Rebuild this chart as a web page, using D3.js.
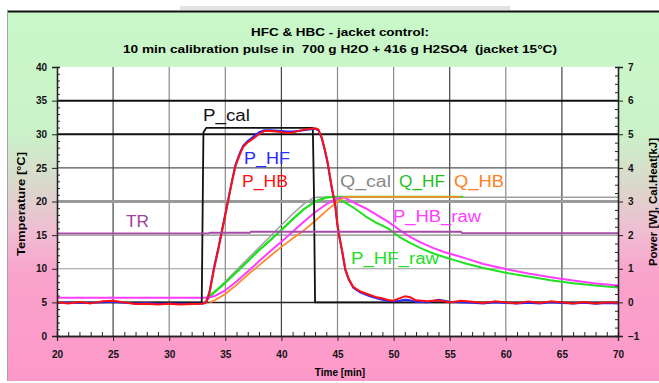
<!DOCTYPE html>
<html>
<head>
<meta charset="utf-8">
<script src="https://cdn.jsdelivr.net/npm/d3@7"></script>
<style>
  body { margin: 0; background: #fff; }
  svg text { font-family: "Liberation Sans", Arial, sans-serif; }
</style>
</head>
<body>
<chart></chart>
<script>
// data: time [min] vs power [W] / heat [kJ] (right axis), TR in degC (left axis)
let xTicks = [20, 25, 30, 35, 40, 45, 50, 55, 60, 65, 70];
let tempTicks = [0, 5, 10, 15, 20, 25, 30, 35, 40];
let powerTicks = [-1, 0, 1, 2, 3, 4, 5, 6, 7];

let pCal = [[20, 0], [32.9, 0], [33.05, 5.05], [33.3, 5.19], [42.8, 5.19], [42.9, 3.3], [43.0, 0], [70, 0]];

let pHB = [[20, 0.0], [21, -0.03], [22, 0.01], [23, -0.03], [24, 0.03], [25, 0.05], [26, 0.0], [27, -0.05], [28, -0.04],
  [29, -0.06], [30, -0.04], [31, -0.06], [32, -0.05], [33, -0.04], [33.3, 0.0], [33.6, 0.3], [34, 1.0], [34.4, 1.6],
  [34.7, 2.1], [35, 2.6], [35.3, 3.1], [35.6, 3.6], [35.9, 4.05], [36.3, 4.4], [36.6, 4.63], [37, 4.76], [37.4, 4.85],
  [38, 5.0], [38.5, 5.1], [39, 5.1], [40, 5.07], [40.5, 5.04], [41, 5.05], [41.5, 5.1], [42, 5.13], [42.5, 5.16],
  [43, 5.18], [43.3, 5.14], [43.6, 4.9], [43.9, 4.5], [44.1, 4.2], [44.3, 3.8], [44.5, 3.4], [44.8, 2.9], [45.0, 2.3],
  [45.2, 1.9], [45.4, 1.56], [45.7, 0.98], [46, 0.7], [46.4, 0.46], [47, 0.33], [47.9, 0.22], [48.5, 0.15], [49, 0.12],
  [49.5, 0.07], [50, 0.05], [50.5, 0.12], [51, 0.18], [51.5, 0.15], [52, 0.06], [53, 0.03], [54, 0.06], [55, 0.0],
  [56, 0.05], [57, 0.02], [58, -0.02], [59, 0.03], [60, 0.0], [61, -0.03], [62, 0.03], [63, -0.02], [64, 0.03],
  [65, 0.0], [66, -0.03], [67, 0.01], [68, -0.03], [69, 0.0], [70, -0.01]];

let pHF = [[20, -0.02], [21, 0.0], [22, -0.02], [23, -0.01], [24, 0.0], [25, 0.02], [26, -0.01], [27, -0.03], [28, -0.02],
  [29, -0.04], [30, -0.03], [31, -0.04], [32, -0.04], [33, -0.03], [33.3, 0.0], [33.6, 0.32], [34, 1.05], [34.4, 1.65],
  [34.7, 2.15], [35, 2.62], [35.3, 3.12], [35.6, 3.62], [35.9, 4.08], [36.3, 4.45], [36.6, 4.66], [37, 4.8], [37.4, 4.9],
  [38, 5.06], [38.5, 5.12], [39, 5.12], [40, 5.1], [40.5, 5.08], [41, 5.08], [41.5, 5.1], [42, 5.12], [42.5, 5.14],
  [43, 5.16], [43.3, 5.12], [43.6, 4.88], [43.9, 4.48], [44.1, 4.18], [44.3, 3.78], [44.5, 3.38], [44.8, 2.88],
  [45.0, 2.28], [45.2, 1.88], [45.4, 1.54], [45.7, 0.96], [46, 0.68], [46.4, 0.44], [47, 0.3], [47.9, 0.18], [48.5, 0.12],
  [49, 0.08], [49.5, 0.05], [50, 0.03], [50.5, 0.05], [51, 0.08], [51.5, 0.06], [52, 0.02], [53, 0.0], [54, 0.08],
  [55, 0.02], [56, 0.0], [57, -0.01], [58, -0.03], [59, 0.0], [60, -0.02], [61, -0.03], [62, -0.01], [63, -0.03],
  [64, 0.0], [65, -0.02], [66, -0.03], [67, -0.01], [68, -0.04], [69, -0.02], [70, -0.03]];

let qCal = [[33, 0], [33.5, 0.1], [34, 0.28], [35, 0.62], [36, 0.96], [37, 1.3], [38, 1.63], [39, 1.96], [40, 2.3],
  [41, 2.63], [42, 2.93], [42.8, 3.1], [43.2, 3.13], [70, 3.13]];

let qHF = [[33.3, 0.12], [34, 0.3], [35, 0.58], [36, 0.9], [37, 1.22], [38, 1.55], [39, 1.85], [40, 2.15], [41, 2.47],
  [42, 2.77], [43, 3.0], [44, 3.12], [44.7, 3.14], [56.2, 3.14]];

let pHFraw = [[33.3, 0.12], [34, 0.3], [35, 0.58], [36, 0.9], [37, 1.22], [38, 1.55], [39, 1.85], [40, 2.15], [41, 2.47],
  [42, 2.77], [43, 3.0], [44, 3.12], [44.7, 3.14], [45.5, 3.0], [46.5, 2.8], [47.5, 2.56], [48.5, 2.36], [49.5, 2.2],
  [50.5, 1.95], [51.5, 1.76], [52.5, 1.6], [53.5, 1.46], [54.5, 1.35], [55.5, 1.25], [56.5, 1.15], [58, 1.02],
  [60, 0.88], [62, 0.77], [64, 0.66], [66, 0.57], [68, 0.5], [70, 0.44]];

let pHBraw = [[20, 0.14], [33.4, 0.14], [34, 0.18], [35, 0.36], [36, 0.62], [37, 0.92], [38, 1.22], [39, 1.52], [40, 1.8],
  [41, 2.1], [42, 2.4], [43, 2.68], [44, 2.92], [45, 3.1], [45.6, 3.12], [46.5, 2.96], [47.5, 2.8], [48.5, 2.6],
  [49.5, 2.4], [50.5, 2.16], [51.5, 1.94], [52.5, 1.77], [53.5, 1.62], [54.5, 1.5], [55.5, 1.4], [56.5, 1.3],
  [58, 1.14], [60, 0.99], [62, 0.86], [64, 0.75], [66, 0.65], [68, 0.56], [70, 0.5]];

let qHB = [[33.6, 0], [34, 0.05], [35, 0.25], [36, 0.52], [37, 0.82], [38, 1.1], [39, 1.38], [40, 1.65], [41, 1.9],
  [42, 2.14], [43, 2.42], [44, 2.72], [45, 3.0], [45.6, 3.12], [46, 3.14], [56, 3.14]];

let tr = [[20, 15.25], [33.5, 15.25], [33.6, 15.35], [37.2, 15.35], [37.3, 15.5], [56, 15.5], [56.1, 15.3], [70, 15.3]];

let width = 659;
let height = 383;

let svg = d3.select("chart").append("svg").attr("width", width).attr("height", height);

// background gradient (green -> pink)
let grad = svg.append("defs").append("linearGradient").attr("id", "bg")
  .attr("x1", 0).attr("y1", 0).attr("x2", 0).attr("y2", 1);
[[0, "#c8f8c8"], [0.33, "#cbf2c9"], [0.48, "#dcd6cc"], [0.6, "#f0bcd2"], [0.72, "#faa2cc"], [1, "#fd99c9"]]
  .forEach((s) => grad.append("stop").attr("offset", s[0]).attr("stop-color", s[1]));

svg.append("rect").attr("x", 180).attr("y", 6).attr("width", 330).attr("height", 4).attr("fill", "#e2e2e2");
svg.append("rect").attr("x", 7).attr("y", 11).attr("width", width - 7).attr("height", 370).attr("fill", "url(#bg)");
svg.append("line").attr("x1", 7).attr("x2", width).attr("y1", 11.5).attr("y2", 11.5).attr("stroke", "#111").attr("stroke-width", 2);
svg.append("line").attr("x1", 7.5).attr("x2", 7.5).attr("y1", 11).attr("y2", 381).attr("stroke", "#a0a0b0");

let plot = { left: 57, right: 618, top: 67, bottom: 336 };

let x = d3.scaleLinear().domain([20, 70]).range([plot.left, plot.right]);
let yT = d3.scaleLinear().domain([0, 40]).range([plot.bottom, plot.top]);
let yP = d3.scaleLinear().domain([-1, 7]).range([plot.bottom, plot.top]);

svg.append("rect").attr("x", plot.left).attr("y", plot.top)
  .attr("width", plot.right - plot.left).attr("height", plot.bottom - plot.top).attr("fill", "#fff");

// grid
let grid = svg.append("g");
grid.selectAll(".vg").data(xTicks.slice(1, -1)).enter().append("line")
  .attr("x1", (d) => x(d)).attr("x2", (d) => x(d)).attr("y1", plot.top).attr("y2", plot.bottom)
  .attr("stroke", (d) => (d == 25 || d == 40 || d == 55 || d == 65 ? "#444" : "#8a8a8a")).attr("stroke-width", 1.2);
let hStyle = { 5: ["#222", 1.5], 10: ["#999", 1.2], 15: ["#888", 1.2], 20: ["#9a9a9a", 3], 25: ["#555", 1.3], 30: ["#111", 2], 35: ["#111", 2] };
grid.selectAll(".hg").data(tempTicks.slice(1, -1)).enter().append("line")
  .attr("x1", plot.left).attr("x2", plot.right).attr("y1", (d) => yT(d)).attr("y2", (d) => yT(d))
  .attr("stroke", (d) => hStyle[d][0]).attr("stroke-width", (d) => hStyle[d][1]);

// series
let line = (yS) => d3.line().x((d) => x(d[0])).y((d) => yS(d[1]));
let series = [
  { data: qCal, color: "#a0a0a0", w: 1.5 },
  { data: pHFraw, color: "#22e022", w: 2 },
  { data: qHF, color: "#22e022", w: 2 },
  { data: pHBraw, color: "#ff3cff", w: 2 },
  { data: qHB, color: "#ff8a2a", w: 1.8 },
  { data: pCal, color: "#111", w: 1.8 },
  { data: pHF, color: "#2a2aff", w: 2 },
  { data: pHB, color: "#ff1010", w: 2 },
];
series.forEach((s) => {
  svg.append("path").datum(s.data).attr("d", line(yP)).attr("fill", "none")
    .attr("stroke", s.color).attr("stroke-width", s.w).attr("stroke-linejoin", "round");
});
svg.append("path").datum(tr).attr("d", line(yT)).attr("fill", "none").attr("stroke", "#a64ca6").attr("stroke-width", 1.8);

// axes
let axisFont = (g) => g.selectAll("text").attr("font-size", 10).attr("font-weight", "bold").attr("fill", "#111");
let xAxis = svg.append("g").attr("transform", `translate(0,${plot.bottom})`)
  .call(d3.axisBottom(x).tickValues(xTicks).tickSize(5).tickPadding(10));
xAxis.call(axisFont);
svg.append("g").attr("transform", `translate(0,${plot.bottom})`)
  .call(d3.axisTop(x).tickValues(d3.range(21, 70, 1).filter((d) => d % 5 != 0)).tickSize(4).tickFormat(""));
let yAxisL = svg.append("g").attr("transform", `translate(${plot.left},0)`)
  .call(d3.axisLeft(yT).tickValues(tempTicks).tickSize(5).tickPadding(5));
yAxisL.call(axisFont);
svg.append("g").attr("transform", `translate(${plot.left},0)`)
  .call(d3.axisRight(yT).tickValues(d3.range(1, 40, 1).filter((d) => d % 5 != 0)).tickSize(3).tickFormat(""));
let yAxisR = svg.append("g").attr("transform", `translate(${plot.right},0)`)
  .call(d3.axisRight(yP).tickValues(powerTicks).tickSize(5).tickPadding(5));
yAxisR.call(axisFont);
svg.append("g").attr("transform", `translate(${plot.right},0)`)
  .call(d3.axisLeft(yP).tickValues(d3.range(-0.75, 7, 0.25).filter((d) => d % 1 != 0)).tickSize(3).tickFormat(""));
svg.selectAll(".domain").attr("stroke", "#222").attr("stroke-width", 1.3);
svg.selectAll(".tick line").attr("stroke", "#222");

// titles
svg.append("text").attr("x", 340).attr("y", 36).attr("text-anchor", "middle").attr("font-size", 11).attr("font-weight", "bold")
  .attr("textLength", 178).attr("lengthAdjust", "spacingAndGlyphs").text("HFC & HBC - jacket control:");
svg.append("text").attr("x", 340).attr("y", 53).attr("text-anchor", "middle").attr("font-size", 11).attr("font-weight", "bold")
  .style("white-space", "pre").attr("textLength", 434).attr("lengthAdjust", "spacingAndGlyphs")
  .text("10 min calibration pulse in  700 g H2O + 416 g H2SO4  (jacket 15°C)");
svg.append("text").attr("x", 340).attr("y", 376).attr("text-anchor", "middle").attr("font-size", 10).attr("font-weight", "bold")
  .text("Time [min]");
svg.append("text").attr("transform", "translate(25,204) rotate(-90)").attr("text-anchor", "middle").attr("font-size", 10)
  .attr("font-weight", "bold").attr("textLength", 104).attr("lengthAdjust", "spacingAndGlyphs").text("Temperature [°C]");
svg.append("text").attr("transform", "translate(657,202) rotate(-90)").attr("text-anchor", "middle").attr("font-size", 10)
  .attr("font-weight", "bold").attr("textLength", 128).attr("lengthAdjust", "spacingAndGlyphs").text("Power [W], Cal.Heat[kJ]");

// series labels
let labels = [
  { t: "P_cal", x: 203, y: 121, w: 47, c: "#111" },
  { t: "P_HF", x: 244, y: 164, w: 46, c: "#2a2aff" },
  { t: "P_HB", x: 242, y: 187, w: 46, c: "#ff1010" },
  { t: "Q_cal", x: 340, y: 187, w: 51, c: "#888" },
  { t: "Q_HF", x: 399, y: 187, w: 46, c: "#1fc01f" },
  { t: "Q_HB", x: 454, y: 187, w: 50, c: "#ff8020" },
  { t: "P_HB_raw", x: 393, y: 222, w: 88, c: "#ff3cff" },
  { t: "P_HF_raw", x: 351, y: 264, w: 88, c: "#22e022" },
  { t: "TR", x: 126, y: 227, w: 23, c: "#a040a0" },
];
svg.selectAll(".lbl").data(labels).enter().append("text")
  .attr("x", (d) => d.x).attr("y", (d) => d.y).attr("font-size", 16).attr("fill", (d) => d.c)
  .attr("textLength", (d) => d.w).attr("lengthAdjust", "spacingAndGlyphs").text((d) => d.t);
</script>
</body>
</html>
